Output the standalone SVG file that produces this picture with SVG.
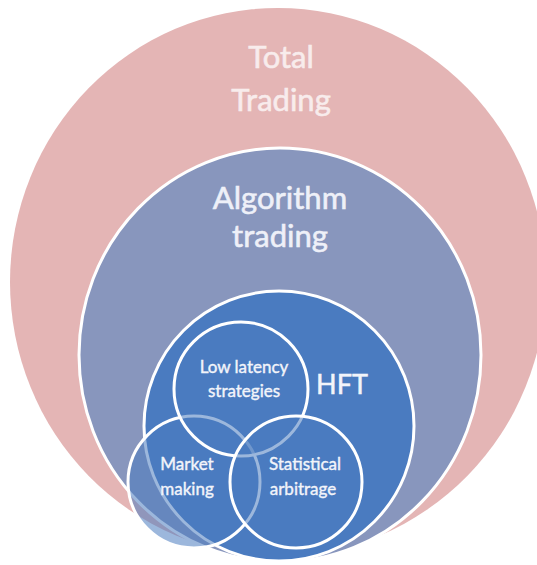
<svg xmlns="http://www.w3.org/2000/svg" width="537" height="565" viewBox="0 0 537 565">
<style>
.ring{stroke:#ffffff;stroke-width:3}
.small{fill:#4A7BC0;fill-opacity:0.55;stroke:#ffffff;stroke-width:3}
.big{font-family:Lato,"Liberation Sans",sans-serif;font-size:31px;text-anchor:middle;stroke-width:0.6}
.mid{font-family:Lato,"Liberation Sans",sans-serif;font-size:27px;fill:#F2F4FA;stroke:#F2F4FA;stroke-width:0.5;text-anchor:middle}
.lbl{font-family:Lato,"Liberation Sans",sans-serif;font-size:17px;fill:#F2F4FA;stroke:#F2F4FA;stroke-width:0.4;text-anchor:middle}
</style>
<rect width="537" height="565" fill="#ffffff"/>
<g id="total-trading">
<ellipse cx="278" cy="282" rx="268" ry="274" fill="#E4B5B5"/>
<text class="big" x="281" y="68" fill="#F8ECEC" stroke="#F8ECEC">Total</text>
<text class="big" x="281" y="111" fill="#F8ECEC" stroke="#F8ECEC">Trading</text>
</g>
<g id="algorithm-trading">
<ellipse class="ring" cx="280" cy="355" rx="201" ry="207" fill="#8896BD"/>
<text class="big" x="280" y="209" fill="#EEF0F8" stroke="#EEF0F8">Algorithm</text>
<text class="big" x="280" y="247" fill="#EEF0F8" stroke="#EEF0F8">trading</text>
</g>
<g id="hft">
<circle class="ring" cx="279" cy="426" r="135" fill="#4A7BC0"/>
</g>
<g id="market-making">
<circle class="small" cx="194" cy="482" r="66"/>
</g>
<g id="low-latency">
<circle class="small" cx="241" cy="389" r="67"/>
</g>
<g id="statistical-arbitrage">
<circle class="small" cx="296" cy="482" r="66"/>
</g>
<g id="labels">
<text class="mid" x="342" y="394">HFT</text>
<text class="lbl" x="244" y="373">Low latency</text>
<text class="lbl" x="244" y="397">strategies</text>
<text class="lbl" x="187" y="470">Market</text>
<text class="lbl" x="187" y="495">making</text>
<text class="lbl" x="305" y="470">Statistical</text>
<text class="lbl" x="303" y="495">arbitrage</text>
</g>
<g id="connectors"/>
</svg>
